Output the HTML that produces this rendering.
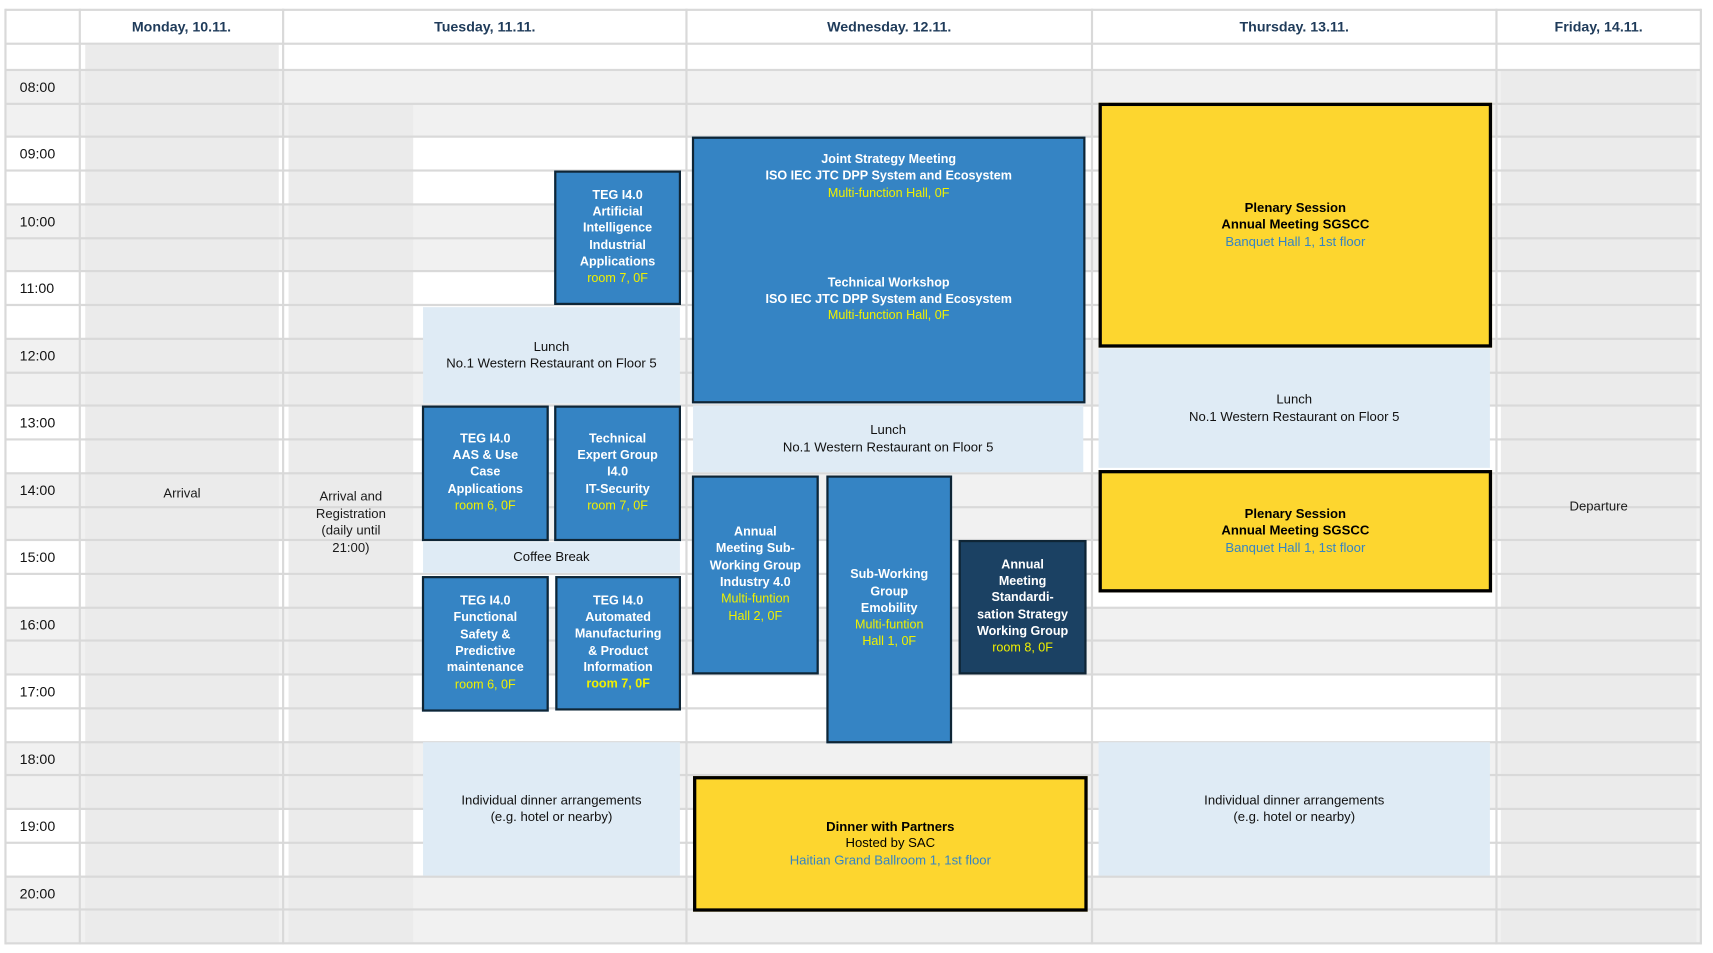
<!DOCTYPE html>
<html><head><meta charset="utf-8"><style>
html,body{margin:0;padding:0;background:#fff;}
body{width:1713px;height:953px;overflow:hidden;position:relative;font-family:"Liberation Sans",sans-serif;}
#w{position:absolute;left:0;top:0;width:1560px;height:868px;transform:scale(1.0931);transform-origin:0 0;}
.a{position:absolute;box-sizing:border-box;}
.c{display:flex;flex-direction:column;align-items:center;justify-content:center;text-align:center;}
.hd{font-weight:bold;color:#1f3b5a;font-size:13px;}
.t{font-size:13px;color:#111;}
.ev{background:#3584c4;border:2px solid #0f2535;color:#fff;font-weight:bold;font-size:11.5px;line-height:15.3px;}
.ev .y,.nv .y{color:#f0f000;font-weight:normal;}
.nv{background:#1b4163;border:2px solid #0f2535;color:#fff;font-weight:bold;font-size:11.5px;line-height:15.3px;}
.lb{background:#dfebf5;color:#111;font-size:12px;line-height:15.5px;}
.yl{background:#fdd62f;border:3px solid #000;color:#000;font-size:12px;line-height:15.5px;}
.yl .b{color:#3584c4;}
.g{color:#1a1a1a;font-size:12px;line-height:15.5px;}
</style></head><body><div id="w">
<div id="grid"></div>
<script>
var g=document.getElementById('grid'),h='';
var cols=[5,73,259,628,999,1369,1556];
var t0=64,rh=(863-64)/26;
for(var i=0;i<26;i++){var y=t0+i*rh;var hr=Math.floor(i/2);var gray=(hr%2==0);
h+='<div class="a" style="left:5px;top:'+y+'px;width:1551px;height:'+rh+'px;background:'+(gray?'#f1f1f1':'#fff')+'"></div>';}
h+='<div class="a" style="left:78px;top:41px;width:177px;height:822px;background:#ebebeb"></div>';
h+='<div class="a" style="left:264px;top:95px;width:114px;height:768px;background:#ebebeb"></div>';
h+='<div class="a" style="left:1373px;top:64px;width:179px;height:799px;background:#ebebeb"></div>';
for(var i=0;i<=26;i++){var y=t0+i*rh;h+='<div class="a" style="left:5px;top:'+(y-1)+'px;width:1551px;height:2px;background:#d9d9d9"></div>';}
h+='<div class="a" style="left:5px;top:8px;width:1551px;height:2px;background:#d9d9d9"></div>';
h+='<div class="a" style="left:5px;top:39px;width:1551px;height:2px;background:#d9d9d9"></div>';
for(var j=0;j<cols.length;j++){h+='<div class="a" style="left:'+(cols[j]-1)+'px;top:8px;width:2px;height:856px;background:#d9d9d9"></div>';}
var times=['08:00','09:00','10:00','11:00','12:00','13:00','14:00','15:00','16:00','17:00','18:00','19:00','20:00'];
for(var k=0;k<13;k++){var y=t0+2*k*rh;h+='<div class="a t" style="left:18px;top:'+(y+8)+'px">'+times[k]+'</div>';}
var hd=['Monday, 10.11.','Tuesday, 11.11.','Wednesday. 12.11.','Thursday. 13.11.','Friday, 14.11.'];
for(var j=0;j<5;j++){h+='<div class="a c hd" style="left:'+cols[j+1]+'px;top:10px;width:'+(cols[j+2]-cols[j+1])+'px;height:29px">'+hd[j]+'</div>';}
g.innerHTML=h;
</script>
<div class="a c g" style="left:78px;top:440px;width:177px;height:24px">Arrival</div>
<div class="a c g" style="left:264px;top:440px;width:114px;height:76px">Arrival and<br>Registration<br>(daily until<br>21:00)</div>
<div class="a c g" style="left:1373px;top:452px;width:179px;height:24px">Departure</div>

<div class="a c ev" style="left:507px;top:156px;width:116px;height:123px">TEG I4.0<br>Artificial<br>Intelligence<br>Industrial<br>Applications<br><span class="y">room 7, 0F</span></div>
<div class="a c lb" style="left:387px;top:281px;width:235px;height:88px">Lunch<br>No.1 Western Restaurant on Floor 5</div>
<div class="a c ev" style="left:386px;top:371px;width:116px;height:124px">TEG I4.0<br>AAS &amp; Use<br>Case<br>Applications<br><span class="y">room 6, 0F</span></div>
<div class="a c ev" style="left:507px;top:371px;width:116px;height:124px">Technical<br>Expert Group<br>I4.0<br>IT-Security<br><span class="y">room 7, 0F</span></div>
<div class="a c lb" style="left:387px;top:496px;width:235px;height:28px">Coffee Break</div>
<div class="a c ev" style="left:386px;top:527px;width:116px;height:124px">TEG I4.0<br>Functional<br>Safety &amp;<br>Predictive<br>maintenance<br><span class="y">room 6, 0F</span></div>
<div class="a c ev" style="left:508px;top:527px;width:115px;height:123px">TEG I4.0<br>Automated<br>Manufacturing<br>&amp; Product<br>Information<br><span class="y" style="font-weight:bold">room 7, 0F</span></div>
<div class="a c lb" style="left:387px;top:679px;width:235px;height:122px">Individual dinner arrangements<br>(e.g. hotel or nearby)</div>

<div class="a ev" style="left:633px;top:125px;width:360px;height:244px;text-align:center;padding-top:12px">Joint Strategy Meeting<br>ISO IEC JTC DPP System and Ecosystem<br><span class="y">Multi-function Hall, 0F</span><div style="height:67px"></div>Technical Workshop<br>ISO IEC JTC DPP System and Ecosystem<br><span class="y">Multi-function Hall, 0F</span></div>
<div class="a c lb" style="left:634px;top:371px;width:357px;height:61px">Lunch<br>No.1 Western Restaurant on Floor 5</div>
<div class="a c ev" style="left:633px;top:435px;width:116px;height:182px">Annual<br>Meeting Sub-<br>Working Group<br>Industry 4.0<br><span class="y">Multi-funtion<br>Hall 2, 0F</span></div>
<div class="a c ev" style="left:756px;top:435px;width:115px;height:245px">Sub-Working<br>Group<br>Emobility<br><span class="y">Multi-funtion<br>Hall 1, 0F</span></div>
<div class="a c nv" style="left:877px;top:494px;width:117px;height:123px">Annual<br>Meeting<br>Standardi-<br>sation Strategy<br>Working Group<br><span class="y">room 8, 0F</span></div>
<div class="a c yl" style="left:634px;top:710px;width:361px;height:124px"><b>Dinner with Partners</b>Hosted by SAC<span class="b">Haitian Grand Ballroom 1, 1st floor</span></div>

<div class="a c yl" style="left:1005px;top:94px;width:360px;height:224px"><b>Plenary Session</b><b>Annual Meeting SGSCC</b><span class="b">Banquet Hall 1, 1st floor</span></div>
<div class="a c lb" style="left:1005px;top:319px;width:358px;height:109px">Lunch<br>No.1 Western Restaurant on Floor 5</div>
<div class="a c yl" style="left:1005px;top:430px;width:360px;height:112px"><b>Plenary Session</b><b>Annual Meeting SGSCC</b><span class="b">Banquet Hall 1, 1st floor</span></div>
<div class="a c lb" style="left:1005px;top:679px;width:358px;height:122px">Individual dinner arrangements<br>(e.g. hotel or nearby)</div>
</div></body></html>
